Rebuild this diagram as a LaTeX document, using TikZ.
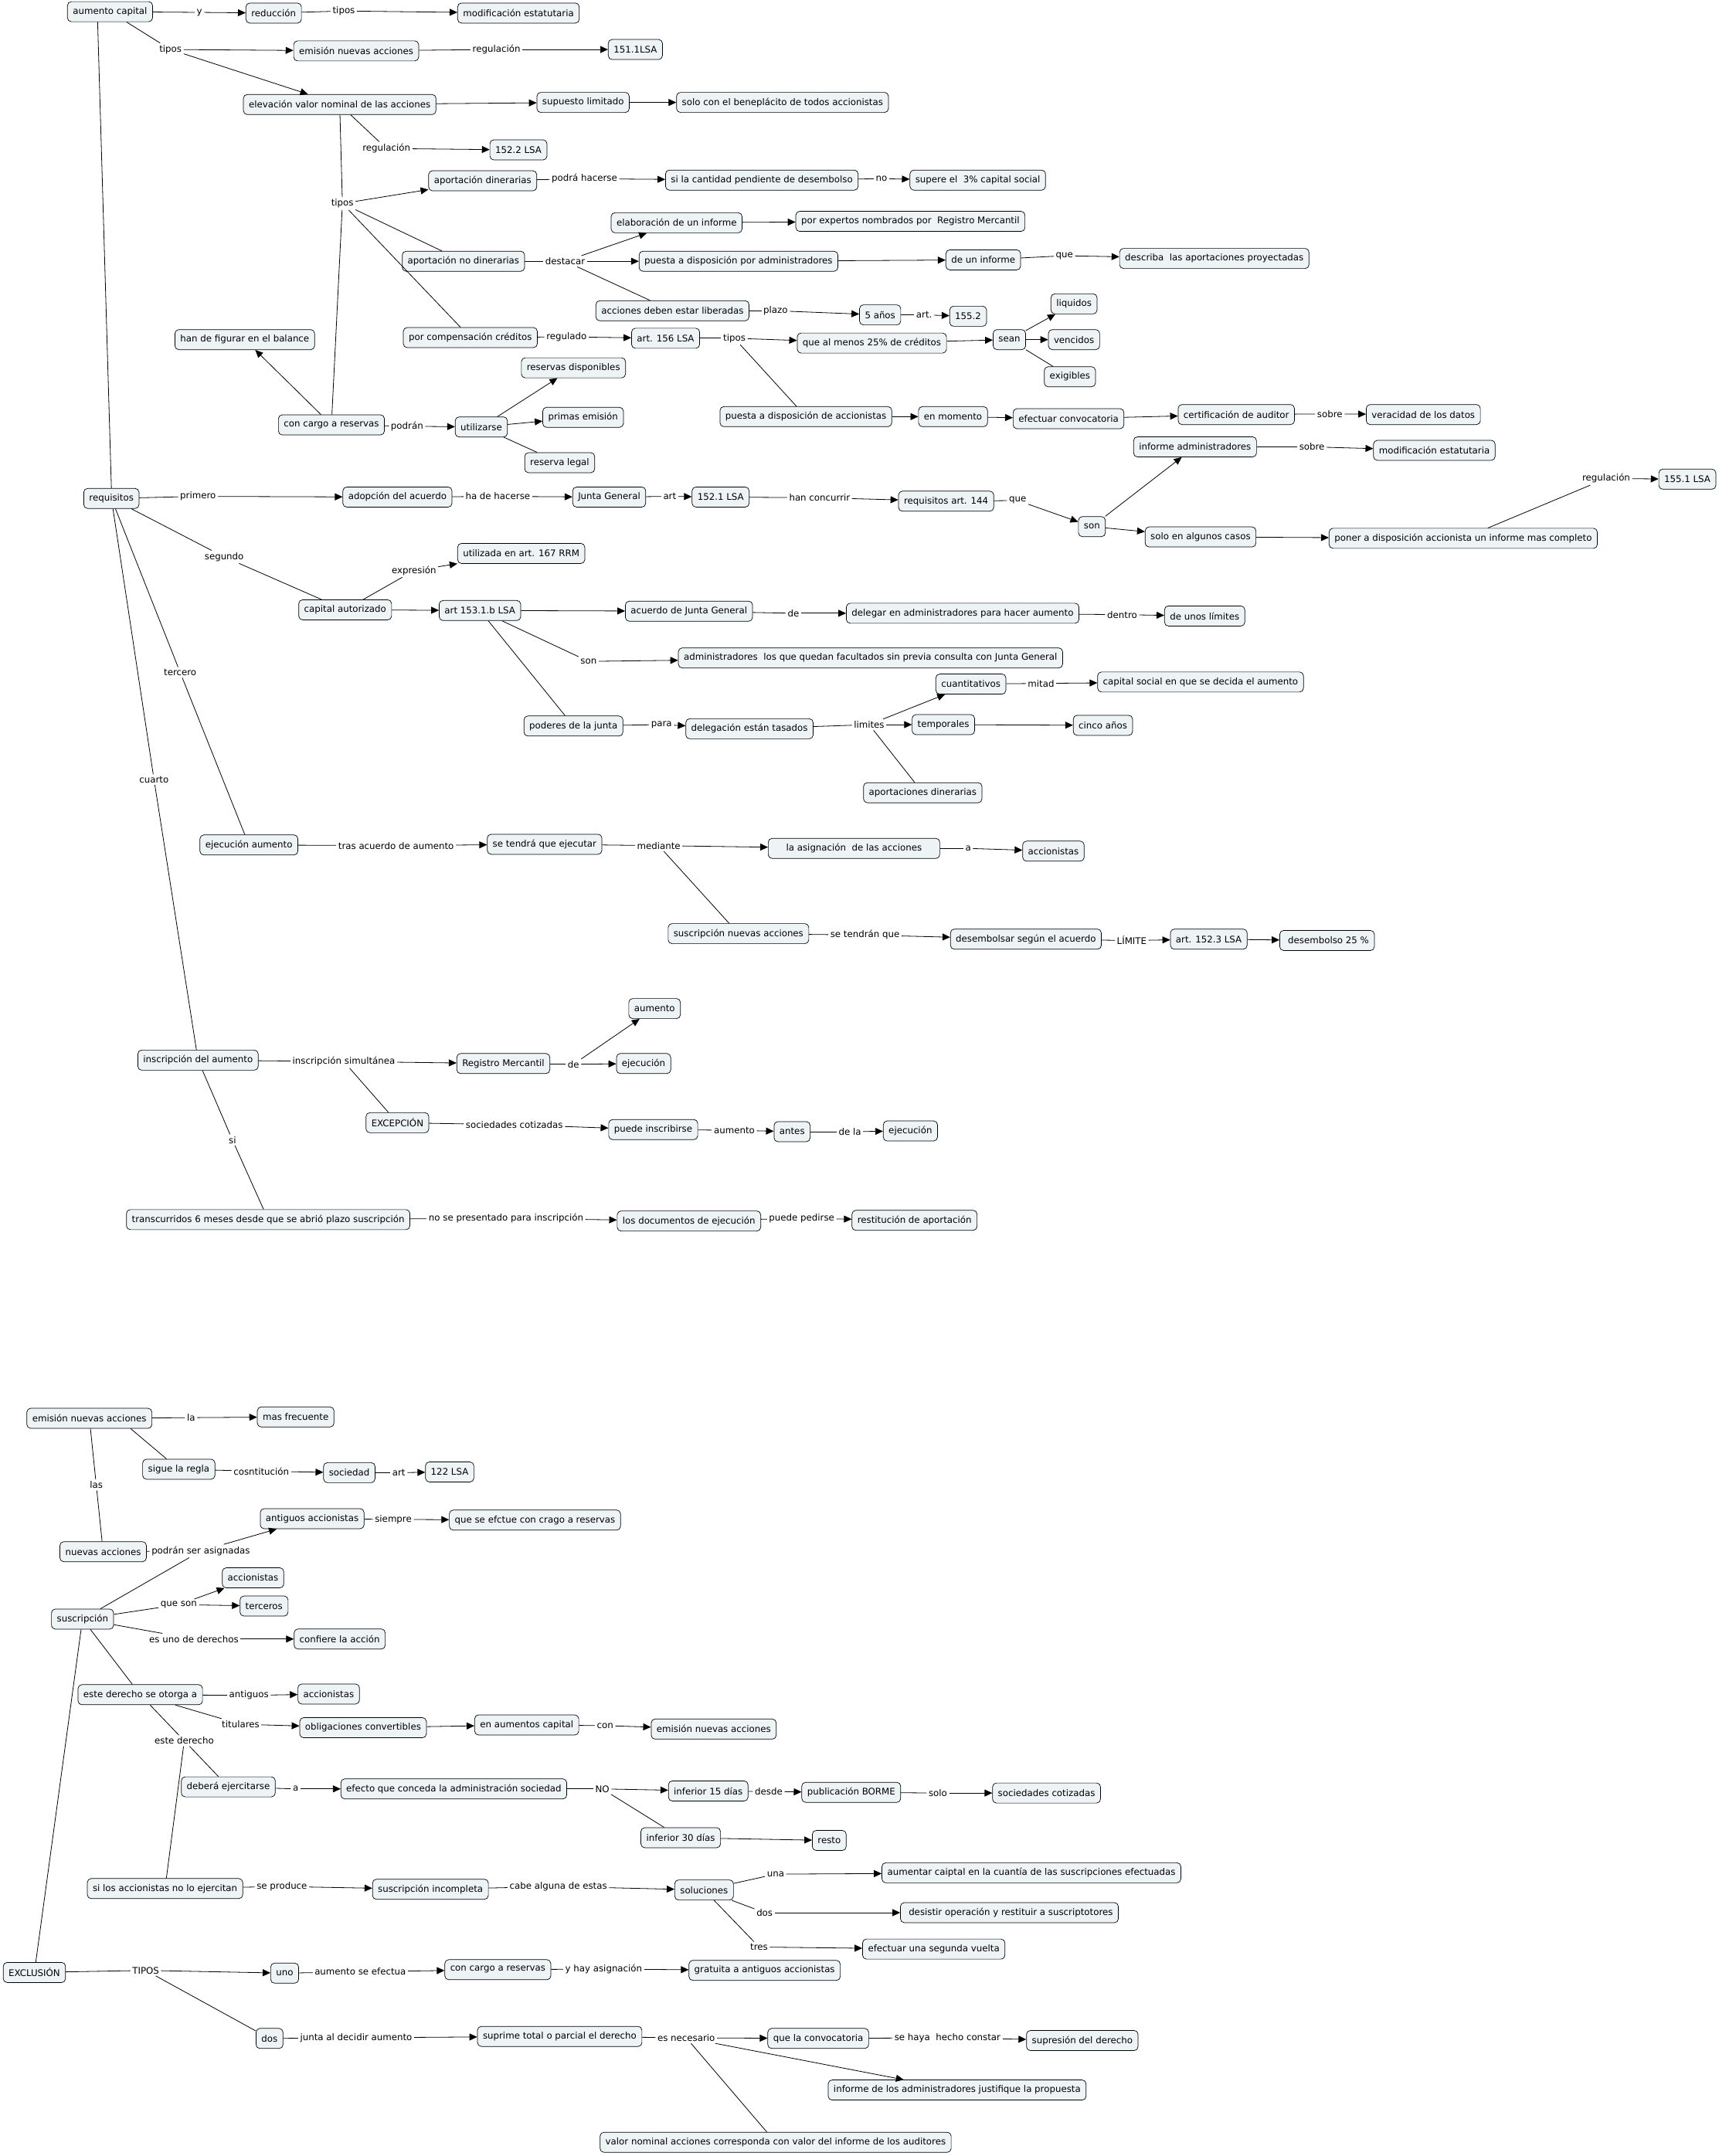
\documentclass[tikz,border=0pt]{standalone}
\usepackage{fontspec}
\setmainfont{DejaVu Sans}
\usetikzlibrary{arrows.meta,calc}
\definecolor{cfill}{HTML}{EEF3F5}
\newcommand\mapfont{\fontsize{11.8pt}{14pt}\selectfont}
\newcommand\maplink[3]{\draw[ln] (#1) -- (#2); \draw[ar] (#2) -- (#3);}
\tikzset{
  cpt/.style={draw=black, line width=0.7pt, fill=cfill, rounded corners=5pt, inner xsep=7pt, inner ysep=0pt, minimum height=26pt, font=\mapfont},
  lp/.style={inner sep=2.5pt, font=\mapfont},
  ln/.style={line width=0.8pt, draw=black},
  ar/.style={ln, -{Triangle[length=10pt,width=9pt]}},
}
\begin{document}
\begin{tikzpicture}[x=1.78pt, y=-1.78pt]
\useasboundingbox[fill=white] (0,0) rectangle (1250,1568);
% ---------- top part ----------
\node[cpt] (aumcap) at (80,8.5) {aumento capital};
\node[lp] (l_y) at (145,9) {y};
\node[cpt] (reduc) at (199,9.5) {reducción};
\node[lp] (l_tip1) at (250,8) {tipos};
\node[cpt] (modest1) at (377,9.5) {modificación estatutaria};
\node[lp] (l_tip2) at (124,36) {tipos};
\node[cpt] (emis) at (259,37) {emisión nuevas acciones};
\node[lp] (l_reg1) at (361,36) {regulación};
\node[cpt] (n1511) at (462,36) {151.1LSA};
\node[cpt] (elev) at (247,76) {elevación valor nominal de las acciones};
\node[cpt] (suplim) at (424,74.5) {supuesto limitado};
\node[cpt] (solocon) at (569,74.5) {solo con el beneplácito de todos accionistas};
\node[lp] (l_reg2) at (281,108) {regulación};
\node[cpt] (n1522) at (377,109) {152.2 LSA};
\node[lp] (l_tip3) at (249,148) {tipos};
\node[cpt] (apdin) at (351,131.5) {aportación dinerarias};
\node[lp] (l_podra) at (425,130) {podrá hacerse};
\node[cpt] (sicant) at (554,131) {si la cantidad pendiente de desembolso};
\node[lp] (l_no) at (641,130) {no};
\node[cpt] (supere) at (711,131) {supere el\ \ 3\% capital social};
\node[cpt] (apnodin) at (337,190) {aportación no dinerarias};
\node[lp] (l_dest) at (411,190) {destacar};
\node[cpt] (elabinf) at (492,162) {elaboración de un informe};
\node[cpt] (porexp) at (662,161) {por expertos nombrados por\ \ Registro Mercantil};
\node[cpt] (puesta1) at (537,190) {puesta a disposición por administradores};
\node[cpt] (deuninf) at (715,189) {de un informe};
\node[lp] (l_que1) at (774,186) {que};
\node[cpt] (describa) at (883,188) {describa\ \ las aportaciones proyectadas};
\node[cpt] (liber) at (489,226) {acciones deben estar liberadas};
\node[lp] (l_plazo) at (564,226) {plazo};
\node[cpt] (cinco1) at (640,229) {5 años};
\node[lp] (l_art1) at (672,229) {art.};
\node[cpt] (n1552) at (704,230) {155.2};
\node[cpt] (porcomp) at (342,245.5) {por compensación créditos};
\node[lp] (l_regd) at (412,245) {regulado};
\node[cpt] (art156) at (484,246) {art. 156 LSA};
\node[lp] (l_tip4) at (534,246) {tipos};
\node[cpt] (queal) at (634,249.5) {que al menos 25\% de créditos};
\node[cpt] (sean) at (734,247) {sean};
\node[cpt] (liq) at (781,221) {liquidos};
\node[cpt] (venc) at (781,247) {vencidos};
\node[cpt] (exig) at (778,274) {exigibles};
\node[cpt] (puesta2) at (586,303) {puesta a disposición de accionistas};
\node[cpt] (enmom) at (693,303) {en momento};
\node[cpt] (efconv) at (777,304.5) {efectuar convocatoria};
\node[cpt] (certif) at (899,301.5) {certificación de auditor};
\node[lp] (l_sob1) at (967,301) {sobre};
\node[cpt] (verac) at (1035,301.5) {veracidad de los datos};
\node[cpt] (hanfig) at (178,247) {han de figurar en el balance};
\node[cpt] (concargo) at (241,309) {con cargo a reservas};
\node[lp] (l_podran) at (296,310) {podrán};
\node[cpt] (utiliz) at (350,310.5) {utilizarse};
\node[cpt] (resdisp) at (417,267.5) {reservas disponibles};
\node[cpt] (primas) at (424,303.5) {primas emisión};
\node[cpt] (reslegal) at (407,336.5) {reserva legal};
% ---------- middle part ----------
\node[cpt] (requis) at (81,362.5) {requisitos};
\node[lp] (l_prim) at (144,361) {primero};
\node[cpt] (adop) at (289,361.5) {adopción del acuerdo};
\node[lp] (l_hade) at (362,361) {ha de hacerse};
\node[cpt] (juntag) at (443,361.5) {Junta General};
\node[lp] (l_art2) at (487,361) {art};
\node[cpt] (n1521) at (524,361.5) {152.1 LSA};
\node[lp] (l_hanc) at (596,362) {han concurrir};
\node[cpt] (req144) at (688,364.5) {requisitos art. 144};
\node[lp] (l_que2) at (740,364) {que};
\node[cpt] (son1) at (794,383) {son};
\node[cpt] (infadm) at (869,325) {informe administradores};
\node[lp] (l_sob2) at (954,325) {sobre};
\node[cpt] (modest2) at (1043,327.5) {modificación estatutaria};
\node[cpt] (soloalg) at (873,390.5) {solo en algunos casos};
\node[cpt] (poner) at (1064,391.5) {poner a disposición accionista un informe mas completo};
\node[lp] (l_reg3) at (1168,348) {regulación};
\node[cpt] (n1551) at (1227,348.5) {155.1 LSA};
\node[lp] (l_seg) at (163,405) {segundo};
\node[cpt] (capaut) at (251,443.5) {capital autorizado};
\node[lp] (l_expr) at (301,415) {expresión};
\node[cpt] (utilizada) at (379,402.5) {utilizada en art. 167 RRM};
\node[cpt] (art1531) at (349,444) {art 153.1.b LSA};
\node[cpt] (acjg) at (501,444.5) {acuerdo de Junta General};
\node[lp] (l_de1) at (577,446) {de};
\node[cpt] (delegar) at (700,446) {delegar en administradores para hacer aumento};
\node[lp] (l_dentro) at (816,447) {dentro};
\node[cpt] (deunos) at (876,448) {de unos límites};
\node[lp] (l_son2) at (428,481) {son};
\node[cpt] (admin) at (633,478.5) {administradores\ \ los que quedan facultados sin previa consulta con Junta General};
\node[cpt] (poderes) at (417,528) {poderes de la junta};
\node[lp] (l_para) at (481,527) {para};
\node[cpt] (delegac) at (545,530) {delegación están tasados};
\node[lp] (l_lim) at (632,527) {limites};
\node[cpt] (cuantit) at (706,497.5) {cuantitativos};
\node[lp] (l_mitad) at (757,497) {mitad};
\node[cpt] (capsoc) at (873,496) {capital social en que se decida el aumento};
\node[cpt] (tempor) at (686,527) {temporales};
\node[cpt] (cinco2) at (802,527.5) {cinco años};
\node[cpt] (apdin2) at (671,576.5) {aportaciones dinerarias};
\node[lp] (l_terc) at (131,489) {tercero};
\node[lp] (l_cuarto) at (112,567) {cuarto};
\node[cpt] (ejecaum) at (181,614.5) {ejecución aumento};
\node[lp] (l_tras) at (288,615) {tras acuerdo de aumento};
\node[cpt] (setendra) at (396,614) {se tendrá que ejecutar};
\node[lp] (l_med) at (479,615) {mediante};
\node[cpt, minimum width=222pt] (asign) at (621,617) {la asignación\ \ de las acciones};
\node[lp] (l_a1) at (704,617) {a};
\node[cpt] (accio1) at (766,619) {accionistas};
\node[cpt] (suscnue) at (537,679) {suscripción nuevas acciones};
\node[lp] (l_setn) at (629,680) {se tendrán que};
\node[cpt] (desemb) at (746,683) {desembolsar según el acuerdo};
\node[lp] (l_limite) at (823,684) {LÍMITE};
\node[cpt] (art1523) at (879,683) {art. 152.3 LSA};
\node[cpt] (desemb25) at (965,684) {\ desembolso 25 \%};
\node[cpt] (inscaum) at (144,771) {inscripción del aumento};
\node[lp] (l_insim) at (250,772) {inscripción simultánea};
\node[cpt] (regmerc) at (366,773.5) {Registro Mercantil};
\node[lp] (l_de2) at (417,774) {de};
\node[cpt] (aumento) at (476,733.5) {aumento};
\node[cpt] (ejec1) at (468,773.5) {ejecución};
\node[cpt] (excep) at (289,816.5) {EXCEPCIÓN};
\node[lp] (l_socot) at (374,818) {sociedades cotizadas};
\node[cpt] (puede) at (475,821.5) {puede inscribirse};
\node[lp] (l_aum2) at (534,822) {aumento};
\node[cpt] (antes) at (576,823) {antes};
\node[lp] (l_dela) at (618,823) {de la};
\node[cpt] (ejec2) at (662,822.5) {ejecución};
\node[lp] (l_si) at (169,829) {si};
\node[cpt] (transc) at (195,887) {transcurridos 6 meses desde que se abrió plazo suscripción};
\node[lp] (l_nose) at (368,886) {no se presentado para inscripción};
\node[cpt] (losdoc) at (501,888) {los documentos de ejecución};
\node[lp] (l_pped) at (583,886) {puede pedirse};
\node[cpt] (restit) at (665,887.5) {restitución de aportación};
% ---------- lower part ----------
\node[cpt] (emis2) at (65,1031.5) {emisión nuevas acciones};
\node[lp] (l_la) at (139,1031) {la};
\node[cpt] (masfrec) at (215,1030.5) {mas frecuente};
\node[cpt] (siguela) at (130,1068.5) {sigue la regla};
\node[lp] (l_cosnt) at (190,1070) {cosntitución};
\node[cpt] (socied) at (254,1071) {sociedad};
\node[lp] (l_art3) at (290,1071) {art};
\node[cpt] (n122) at (327,1070.5) {122 LSA};
\node[lp] (l_las) at (70,1080) {las};
\node[cpt] (nuevas) at (75,1128.5) {nuevas acciones};
\node[lp] (l_podser) at (146,1128) {podrán ser asignadas};
\node[cpt] (antig) at (227,1104.5) {antiguos accionistas};
\node[lp] (l_siem) at (286,1105) {siempre};
\node[cpt] (queseef) at (389,1105.5) {que se efctue con crago a reservas};
\node[cpt] (suscrip) at (60,1177.5) {suscripción};
\node[lp] (l_queson) at (130,1167) {que son};
\node[cpt] (accio2) at (184,1147.5) {accionistas};
\node[cpt] (terc) at (192,1168) {terceros};
\node[lp] (l_esuno) at (141,1192) {es uno de derechos};
\node[cpt] (confiere) at (247,1192) {confiere la acción};
\node[cpt] (otorga) at (102,1232.5) {este derecho se otorga a};
\node[lp] (l_antig2) at (181,1233) {antiguos};
\node[cpt] (accio3) at (239,1232) {accionistas};
\node[lp] (l_titul) at (175,1254) {titulares};
\node[cpt] (oblig) at (264,1256.5) {obligaciones convertibles};
\node[cpt] (enaum) at (383,1254.5) {en aumentos capital};
\node[lp] (l_con) at (440,1255) {con};
\node[cpt] (emis3) at (519,1257.5) {emisión nuevas acciones};
\node[lp] (l_estder) at (134,1266) {este derecho};
\node[cpt] (debera) at (166,1299.5) {deberá ejercitarse};
\node[lp] (l_a2) at (215,1301) {a};
\node[cpt] (efecto) at (330,1301) {efecto que conceda la administración sociedad};
\node[lp] (l_NO) at (438,1301) {NO};
\node[cpt] (inf15) at (515,1302.5) {inferior 15 días};
\node[lp] (l_desde) at (559,1303) {desde};
\node[cpt] (borme) at (619,1303.5) {publicación BORME};
\node[lp] (l_solo) at (682,1304) {solo};
\node[cpt] (socot2) at (761,1304) {sociedades cotizadas};
\node[cpt] (inf30) at (495,1336.5) {inferior 30 días};
\node[cpt] (resto) at (603,1338.5) {resto};
\node[cpt] (silos) at (120,1373.5) {si los accionistas no lo ejercitan};
\node[lp] (l_sepro) at (205,1372) {se produce};
\node[cpt] (suscinc) at (313,1374) {suscripción incompleta};
\node[lp] (l_cabe) at (406,1372) {cabe alguna de estas};
\node[cpt] (soluc) at (512,1374.5) {soluciones};
\node[lp] (l_una) at (564,1363) {una};
\node[cpt] (aumcaip) at (750,1362) {aumentar caiptal en la cuantía de las suscripciones efectuadas};
\node[lp] (l_dos1) at (556,1391) {dos};
\node[cpt] (desist) at (734,1391) {\ desistir operación y restituir a suscriptotores};
\node[lp] (l_tres) at (552,1416) {tres};
\node[cpt] (segvu) at (679,1417.5) {efectuar una segunda vuelta};
\node[cpt] (exclu) at (25,1434.5) {EXCLUSIÓN};
\node[lp] (l_TIPOS) at (106,1433) {TIPOS};
\node[cpt] (uno) at (207,1435) {uno};
\node[lp] (l_aumse) at (262,1434) {aumento se efectua};
\node[cpt] (concargo2) at (362,1432.5) {con cargo a reservas};
\node[lp] (l_yhay) at (439,1432) {y hay asignación};
\node[cpt] (gratu) at (556,1433) {gratuita a antiguos accionistas};
\node[cpt] (dos) at (196,1482.5) {dos};
\node[lp] (l_junta) at (259,1482) {junta al decidir aumento};
\node[cpt] (suprime) at (407,1481) {suprime total o parcial el derecho};
\node[lp] (l_esnec) at (499,1482) {es necesario};
\node[cpt] (queconv) at (595,1482.5) {que la convocatoria};
\node[lp] (l_sehaya) at (689,1482) {se haya\ \ hecho constar};
\node[cpt] (supres) at (787,1484) {supresión del derecho};
\node[cpt] (infjust) at (696,1520) {informe de los administradores justifique la propuesta};
\node[cpt] (valnom) at (564,1558) {valor nominal acciones corresponda con valor del informe de los auditores};
% ---------- connectors: top ----------
\maplink{aumcap}{l_y}{reduc}
\maplink{reduc}{l_tip1}{modest1}
\maplink{aumcap}{l_tip2}{emis}
\draw[ar] (l_tip2) -- (elev);
\maplink{emis}{l_reg1}{n1511}
\draw[ar] (elev) -- (suplim);
\draw[ar] (suplim) -- (solocon);
\maplink{elev}{l_reg2}{n1522}
\maplink{elev}{l_tip3}{apdin}
\draw[ln] (l_tip3) -- (apnodin);
\draw[ln] (l_tip3) -- (porcomp);
\draw[ln] (l_tip3) -- (concargo);
\maplink{apdin}{l_podra}{sicant}
\maplink{sicant}{l_no}{supere}
\maplink{apnodin}{l_dest}{elabinf}
\draw[ar] (l_dest) -- (puesta1);
\draw[ln] (l_dest) -- (liber);
\draw[ar] (elabinf) -- (porexp);
\draw[ar] (puesta1) -- (deuninf);
\maplink{deuninf}{l_que1}{describa}
\maplink{liber}{l_plazo}{cinco1}
\maplink{cinco1}{l_art1}{n1552}
\maplink{porcomp}{l_regd}{art156}
\maplink{art156}{l_tip4}{queal}
\draw[ln] (l_tip4) -- (puesta2);
\draw[ar] (queal) -- (sean);
\draw[ar] (sean) -- (liq);
\draw[ar] (sean) -- (venc);
\draw[ln] (sean) -- (exig);
\draw[ar] (puesta2) -- (enmom);
\draw[ar] (enmom) -- (efconv);
\draw[ar] (efconv) -- (certif);
\maplink{certif}{l_sob1}{verac}
\draw[ar] (concargo) -- (hanfig);
\maplink{concargo}{l_podran}{utiliz}
\draw[ar] (utiliz) -- (resdisp);
\draw[ar] (utiliz) -- (primas);
\draw[ln] (utiliz) -- (reslegal);
% ---------- connectors: middle ----------
\draw[ln] ($(aumcap.south)+(-9,0)$) -- (requis.north);
\maplink{requis}{l_prim}{adop}
\maplink{adop}{l_hade}{juntag}
\maplink{juntag}{l_art2}{n1521}
\maplink{n1521}{l_hanc}{req144}
\maplink{req144}{l_que2}{son1}
\draw[ar] (son1) -- (infadm);
\draw[ar] (son1) -- (soloalg);
\maplink{infadm}{l_sob2}{modest2}
\draw[ar] (soloalg) -- (poner);
\maplink{poner}{l_reg3}{n1551}
\draw[ln] (requis) -- (l_seg);
\draw[ln] (l_seg) -- (capaut);
\maplink{capaut}{l_expr}{utilizada}
\draw[ar] (capaut) -- (art1531);
\draw[ar] (art1531) -- (acjg);
\maplink{acjg}{l_de1}{delegar}
\maplink{delegar}{l_dentro}{deunos}
\maplink{art1531}{l_son2}{admin}
\draw[ln] (art1531) -- (poderes);
\maplink{poderes}{l_para}{delegac}
\maplink{delegac}{l_lim}{cuantit}
\draw[ar] (l_lim) -- (tempor);
\draw[ln] (l_lim) -- (apdin2);
\maplink{cuantit}{l_mitad}{capsoc}
\draw[ar] (tempor) -- (cinco2);
\draw[ln] (requis) -- (l_terc);
\draw[ln] (l_terc) -- (ejecaum);
\draw[ln] (requis) -- (l_cuarto);
\draw[ln] (l_cuarto) -- (inscaum);
\maplink{ejecaum}{l_tras}{setendra}
\maplink{setendra}{l_med}{asign}
\draw[ln] (l_med) -- (suscnue);
\maplink{asign}{l_a1}{accio1}
\maplink{suscnue}{l_setn}{desemb}
\maplink{desemb}{l_limite}{art1523}
\draw[ar] (art1523) -- (desemb25);
\maplink{inscaum}{l_insim}{regmerc}
\draw[ln] (l_insim) -- (excep);
\maplink{regmerc}{l_de2}{aumento}
\draw[ar] (l_de2) -- (ejec1);
\maplink{excep}{l_socot}{puede}
\maplink{puede}{l_aum2}{antes}
\maplink{antes}{l_dela}{ejec2}
\draw[ln] (inscaum) -- (l_si);
\draw[ln] (l_si) -- (transc);
\maplink{transc}{l_nose}{losdoc}
\maplink{losdoc}{l_pped}{restit}
% ---------- connectors: lower ----------
\maplink{emis2}{l_la}{masfrec}
\draw[ln] ($(emis2.south)+(30,0)$) -- (siguela);
\maplink{siguela}{l_cosnt}{socied}
\maplink{socied}{l_art3}{n122}
\draw[ln] (emis2) -- (l_las);
\draw[ln] (l_las) -- (nuevas);
\maplink{nuevas}{l_podser}{antig}
\draw[ln] (suscrip) -- (l_podser);
\maplink{antig}{l_siem}{queseef}
\maplink{suscrip}{l_queson}{accio2}
\draw[ar] (l_queson) -- (terc);
\maplink{suscrip}{l_esuno}{confiere}
\draw[ln] (suscrip) -- (otorga);
\draw[ln] (suscrip) -- (exclu);
\maplink{otorga}{l_antig2}{accio3}
\maplink{otorga}{l_titul}{oblig}
\draw[ar] (oblig) -- (enaum);
\maplink{enaum}{l_con}{emis3}
\draw[ln] (otorga) -- (l_estder);
\draw[ln] (l_estder) -- (debera);
\draw[ln] (l_estder) -- (silos);
\maplink{debera}{l_a2}{efecto}
\maplink{efecto}{l_NO}{inf15}
\draw[ln] (l_NO) -- (inf30);
\maplink{inf15}{l_desde}{borme}
\maplink{borme}{l_solo}{socot2}
\draw[ar] (inf30) -- (resto);
\maplink{silos}{l_sepro}{suscinc}
\maplink{suscinc}{l_cabe}{soluc}
\maplink{soluc}{l_una}{aumcaip}
\maplink{soluc}{l_dos1}{desist}
\maplink{soluc}{l_tres}{segvu}
\maplink{exclu}{l_TIPOS}{uno}
\draw[ln] (l_TIPOS) -- (dos);
\maplink{uno}{l_aumse}{concargo2}
\maplink{concargo2}{l_yhay}{gratu}
\maplink{dos}{l_junta}{suprime}
\maplink{suprime}{l_esnec}{queconv}
\draw[ar] (l_esnec) -- (infjust);
\draw[ln] (l_esnec) -- (valnom);
\maplink{queconv}{l_sehaya}{supres}
\end{tikzpicture}
\end{document}
